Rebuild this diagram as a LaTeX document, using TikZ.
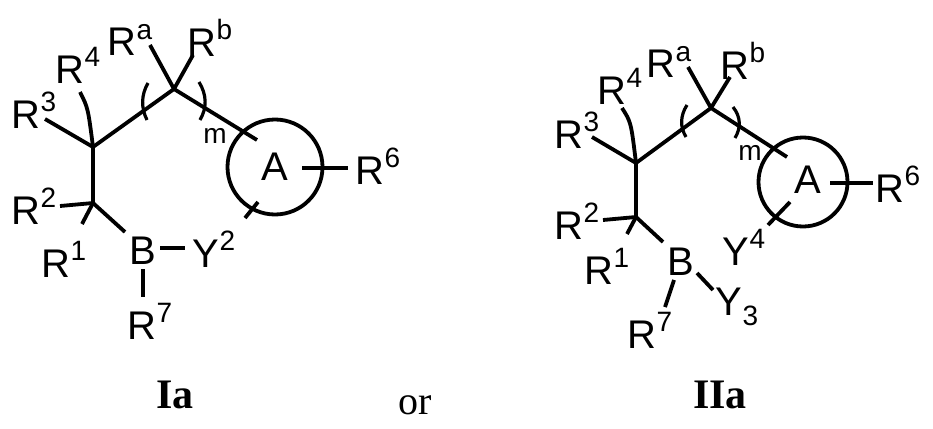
\documentclass[tikz,border=0pt]{standalone}
\usepackage{fontspec}
\setmainfont{Liberation Sans}
\newfontfamily\serifb{Liberation Serif}
\newcommand\Rsp[2]{#1\raisebox{0.42em}{\fontsize{28}{28}\selectfont #2}}
\newcommand\Rsb[2]{#1\raisebox{-0.25em}{\fontsize{28}{28}\selectfont #2}}
\begin{document}
\begin{tikzpicture}[x=1pt,y=-1pt,
  bond/.style={line width=3.8pt},
  thin/.style={line width=3.2pt},
  lab/.style={inner sep=0pt,font=\fontsize{40}{40}\selectfont},
  big/.style={inner sep=0pt,font=\fontsize{42}{42}\selectfont\serifb\bfseries}]
\useasboundingbox (0,0) rectangle (933,428);
% ---------- Ia ----------
\coordinate (c1) at (93,147);
\coordinate (ca) at (174,89);
\coordinate (c2) at (93,203);
\node[circle,draw,line width=3.8pt,minimum size=95pt,inner sep=0pt] (ring) at (275,167) {};
\node[lab] (A) at (275,167) {A};
\node[lab] (B) at (143,251) {B};
\node[lab] (Y2) at (214,249) {\Rsp{Y}{2}};
\node[lab] (R7) at (150,321) {\Rsp{R}{7}};
\node[lab] (R6) at (378,166) {\Rsp{R}{6}};
\node[lab] (R1) at (64,259) {\Rsp{R}{1}};
\node[lab] (R2) at (34,206) {\Rsp{R}{2}};
\node[lab] (R3) at (34,110) {\Rsp{R}{3}};
\node[lab] (R4) at (78,65) {\Rsp{R}{4}};
\node[lab] (Ra) at (130,40) {\Rsp{R}{a}};
\node[lab] (Rb) at (210,38) {\Rsp{R}{b}};
\node[inner sep=0pt,font=\fontsize{28}{28}\selectfont] (m) at (215,136) {m};
\coordinate (rt) at (257,140);
\coordinate (y2a) at (245,218); \coordinate (y2b) at (258,202);
\coordinate (r6a) at (302,168); \coordinate (r6b) at (348,168);
\draw[bond] (c1) -- (ca) -- (rt);
\draw[bond] (c1) -- (c2) -- (125,232);
\draw[bond] (c1) -- (45,119);
\draw[bond] (80,92) .. controls (88,108) .. (c1);
\draw[bond] (ca) -- (150,45);
\draw[bond] (ca) -- (193,55);
\draw[bond] (c2) -- (60,206);
\draw[bond] (c2) -- (82,224);
\draw[bond] (160,248) -- (185,248);
\draw[bond] (143,269) -- (143,297);
\draw[bond] (y2a) -- (y2b);
\draw[bond] (r6a) -- (r6b);
\draw[thin] (148,83) .. controls (141,95) and (141,108) .. (147,120);
\draw[thin] (199,82) .. controls (207,95) and (207,108) .. (200,120);
\node[big] (Ia) at (175,395) {Ia};
\node[inner sep=0pt,font=\fontsize{40}{40}\selectfont\serifb] (or) at (415,405) {or};
% ---------- IIa ----------
\coordinate (d1) at (636,163);
\coordinate (da) at (711,108);
\coordinate (d2) at (636,217);
\node[circle,draw,line width=3.8pt,minimum size=89pt,inner sep=0pt] (ring2) at (803,182) {};
\node[lab] (A2) at (808,180) {A};
\node[lab] (B2) at (681,262) {B};
\node[lab] (Y4) at (744,247) {\Rsp{Y}{4}};
\node[lab] (Y3) at (737,307) {\Rsb{Y}{3}};
\node[lab] (R72) at (650,330) {\Rsp{R}{7}};
\node[lab] (R62) at (898,184) {\Rsp{R}{6}};
\node[lab] (R12) at (607,266) {\Rsp{R}{1}};
\node[lab] (R22) at (577,221) {\Rsp{R}{2}};
\node[lab] (R32) at (577,130) {\Rsp{R}{3}};
\node[lab] (R42) at (620,86) {\Rsp{R}{4}};
\node[lab] (Ra2) at (669,62) {\Rsp{R}{a}};
\node[lab] (Rb2) at (743,61) {\Rsp{R}{b}};
\node[inner sep=0pt,font=\fontsize{28}{28}\selectfont] (m2) at (750,153) {m};
\draw[bond] (d1) -- (da) -- (787,157);
\draw[bond] (d1) -- (d2) -- (663,242);
\draw[bond] (d1) -- (592,137);
\draw[bond] (622,108) .. controls (631,122) .. (d1);
\draw[bond] (da) -- (688,67);
\draw[bond] (da) -- (730,77);
\draw[bond] (d2) -- (603,220);
\draw[bond] (d2) -- (627,234);
\draw[bond] (697,273) -- (713,290);
\draw[bond] (674,280) -- (665,307);
\draw[bond] (768,225) -- (790,202);
\draw[bond] (830,183) -- (873,183);
\draw[thin] (687,105) .. controls (680,116) and (680,127) .. (686,137);
\draw[thin] (733,107) .. controls (741,117) and (741,128) .. (735,138);
\node[big] (IIa) at (720,395) {IIa};
\end{tikzpicture}
\end{document}
